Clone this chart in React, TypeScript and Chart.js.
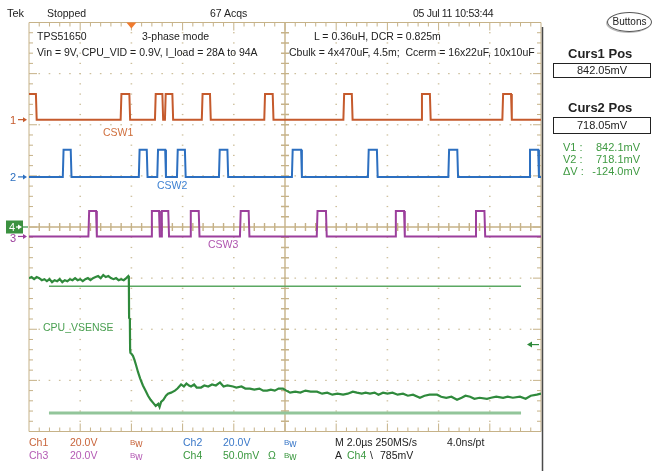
import React, { useEffect, useRef } from "react";
import { Chart, registerables } from "chart.js";

Chart.register(...registerables);

// ---------- Scope set-up ----------
// Horizontal: 2.0 µs/div, 10 divisions, trigger at t = 0 (2 div from left)
const TIME_MIN_US = -4;
const TIME_MAX_US = 16;
// Vertical: 8 divisions
const DIV_MIN = -4;
const DIV_MAX = 4;

// Ch1..Ch3: 20 V/div, ground position in divisions
const CH1_V_PER_DIV = 20;
const CH1_POS_DIV = 2.1;
const CH2_V_PER_DIV = 20;
const CH2_POS_DIV = 0.98;
const CH3_V_PER_DIV = 20;
const CH3_POS_DIV = -0.185;
// Ch4: 50 mV/div, offset 900 mV at centre
const CH4_MV_PER_DIV = 50;
const CH4_OFFSET_MV = 900;

// ---------- Switching pulses (rise, fall) in µs ----------
const CSW1_HIGH_V = 10;
const CSW1_PULSES_US = [
  [-4.5, -3.73], [-0.42, -0.08], [0.92, 1.21], [1.31, 1.6], [2.75, 3.07],
  [5.19, 5.52], [8.28, 8.61], [11.32, 11.66], [14.49, 14.83],
];
const CSW2_HIGH_V = 10.6;
const CSW2_PULSES_US = [
  [-2.68, -2.37], [0.29, 0.6], [1.01, 1.32], [1.78, 2.09], [3.42, 3.75],
  [6.27, 6.63], [9.24, 9.59], [12.38, 12.73], [15.54, 15.89],
];
const CSW3_HIGH_V = 10;
const CSW3_PULSES_US = [
  [-1.68, -1.38], [0.77, 1.08], [1.16, 1.44], [2.29, 2.63], [4.24, 4.58],
  [7.24, 7.6], [10.3, 10.65], [13.43, 13.79],
];

// ---------- CPU_VSENSE (Ch4) ----------
const VSENSE_T_US = [
  -4.0, -3.9, -3.8, -3.7, -3.6, -3.5, -3.4, -3.3, -3.2, -3.1,
  -3.0, -2.9, -2.8, -2.7, -2.6, -2.5, -2.4, -2.3, -2.2, -2.1,
  -2.0, -1.9, -1.8, -1.7, -1.6, -1.5, -1.4, -1.3, -1.2, -1.1,
  -1.0, -0.9, -0.8, -0.7, -0.6, -0.5, -0.4, -0.3, -0.2, -0.12,
  -0.1, -0.09, -0.06, -0.05, -0.04, 0.0, 0.06, 0.12, 0.18, 0.26,
  0.34, 0.45, 0.55, 0.65, 0.75, 0.85, 0.95, 1.05, 1.1, 1.16,
  1.25, 1.35, 1.43, 1.55, 1.7, 1.8, 1.94, 2.05, 2.15, 2.25,
  2.33, 2.45, 2.55, 2.72, 2.85, 3.0, 3.15, 3.3, 3.46, 3.6,
  3.75, 3.97, 4.1, 4.3, 4.45, 4.63, 4.8, 5.0, 5.15, 5.3,
  5.45, 5.6, 5.75, 5.92, 6.05, 6.2, 6.4, 6.6, 6.8, 7.0,
  7.25, 7.45, 7.65, 7.85, 8.05, 8.27, 8.45, 8.65, 8.81, 9.0,
  9.15, 9.32, 9.5, 9.65, 9.83, 10.0, 10.2, 10.4, 10.61, 10.8,
  11.0, 11.27, 11.45, 11.65, 11.94, 12.1, 12.3, 12.5, 12.72, 12.9,
  13.05, 13.23, 13.4, 13.6, 13.89, 14.05, 14.25, 14.52, 14.7, 14.9,
  15.18, 15.4, 15.6, 15.84, 16.0,
];
const VSENSE_MV = [
  850, 851, 849, 851, 850, 848, 849, 847, 849, 846,
  848, 847, 849, 846, 848, 847, 849, 848, 850, 848,
  849, 847, 849, 850, 848, 850, 851, 852, 850, 853,
  851, 852, 850, 849, 850, 848, 849, 848, 850, 852,
  851, 811, 810, 780, 777, 776, 774, 770, 765, 758,
  752, 745, 740, 735, 731, 728, 725, 727, 724, 729,
  731, 735, 737, 738, 740, 742, 746, 744, 747, 745,
  744, 746, 743, 743, 745, 744, 746, 745, 748, 744,
  745, 744, 743, 744, 742, 742, 741, 742, 740, 740,
  741, 740, 742, 742, 740, 738, 739, 738, 740, 739,
  739, 737, 738, 736, 737, 736, 737, 739, 738, 737,
  738, 737, 738, 736, 738, 737, 738, 736, 737, 735,
  736, 733, 735, 736, 736, 734, 733, 734, 731, 733,
  735, 734, 732, 733, 732, 733, 734, 733, 734, 733,
  734, 732, 735, 736, 737,
];

// ---------- Cursors & trigger ----------
const CURSOR1_MV = 842.05;
const CURSOR2_MV = 718.05;
const CURSOR_SPAN_US = [-3.22, 15.22];
const TRIGGER_LEVEL_MV = 785;
const TRIGGER_TIME_US = 0;

// ---------- Colours ----------
const C1 = "#c55a2c";
const C2 = "#2c6fc0";
const C3 = "#9c3f9c";
const C4 = "#2f8a3c";
const GRAT = "#c6b288";
const DOT = "#cdbf9c";

function pulseTrain(pulses: number[][], posDiv: number, highV: number, vPerDiv: number) {
  const lo = posDiv;
  const hi = posDiv + highV / vPerDiv;
  const pts: { x: number; y: number }[] = [];
  pts.push({ x: TIME_MIN_US - 1, y: pulses[0][0] < TIME_MIN_US ? hi : lo });
  for (const [r, f] of pulses) {
    if (r > TIME_MIN_US) {
      pts.push({ x: r, y: lo });
      pts.push({ x: r + 0.03, y: hi });
    }
    pts.push({ x: f, y: hi });
    pts.push({ x: f + 0.03, y: lo });
  }
  pts.push({ x: TIME_MAX_US + 1, y: lo });
  return pts;
}

const mvToDiv = (mv: number) => (mv - CH4_OFFSET_MV) / CH4_MV_PER_DIV;

const graticulePlugin = {
  id: "graticule",
  beforeDatasetsDraw(chart: any) {
    const { ctx, chartArea: a, scales } = chart;
    const xs = scales.x;
    const ys = scales.y;
    const tDiv = (TIME_MAX_US - TIME_MIN_US) / 10;
    ctx.save();
    // dotted division lines
    ctx.fillStyle = DOT;
    for (let k = 1; k < 10; k++) {
      if (k === 5) continue;
      const x = xs.getPixelForValue(TIME_MIN_US + k * tDiv);
      for (let m = 1; m < 40; m++) {
        const y = ys.getPixelForValue(DIV_MIN + m / 5);
        ctx.fillRect(x - 0.8, y - 0.6, 1.6, 1.2);
      }
    }
    for (let k = 1; k < 8; k++) {
      if (k === 4) continue;
      const y = ys.getPixelForValue(DIV_MIN + k);
      for (let m = 1; m < 50; m++) {
        const x = xs.getPixelForValue(TIME_MIN_US + (m * tDiv) / 5);
        ctx.fillRect(x - 0.8, y - 0.6, 1.6, 1.2);
      }
    }
    // centre cross with ticks
    ctx.strokeStyle = GRAT;
    ctx.lineWidth = 1.4;
    const cx = xs.getPixelForValue(TIME_MIN_US + 5 * tDiv);
    const cy = ys.getPixelForValue(0);
    ctx.beginPath();
    ctx.moveTo(a.left, cy);
    ctx.lineTo(a.right, cy);
    ctx.moveTo(cx, a.top);
    ctx.lineTo(cx, a.bottom);
    for (let m = 1; m < 50; m++) {
      const x = xs.getPixelForValue(TIME_MIN_US + (m * tDiv) / 5);
      ctx.moveTo(x, cy - 4);
      ctx.lineTo(x, cy + 4);
    }
    for (let m = 1; m < 40; m++) {
      const y = ys.getPixelForValue(DIV_MIN + m / 5);
      ctx.moveTo(cx - 4, y);
      ctx.lineTo(cx + 4, y);
    }
    ctx.stroke();
    // border with ticks
    ctx.lineWidth = 1;
    ctx.beginPath();
    ctx.rect(a.left, a.top, a.right - a.left, a.bottom - a.top);
    for (let m = 1; m < 50; m++) {
      const x = xs.getPixelForValue(TIME_MIN_US + (m * tDiv) / 5);
      const len = m % 5 === 0 ? 8 : 4;
      ctx.moveTo(x, a.top);
      ctx.lineTo(x, a.top + len);
      ctx.moveTo(x, a.bottom);
      ctx.lineTo(x, a.bottom - len);
    }
    for (let m = 1; m < 40; m++) {
      const y = ys.getPixelForValue(DIV_MIN + m / 5);
      const len = m % 5 === 0 ? 8 : 4;
      ctx.moveTo(a.left, y);
      ctx.lineTo(a.left + len, y);
      ctx.moveTo(a.right, y);
      ctx.lineTo(a.right - len, y);
    }
    ctx.stroke();
    ctx.restore();
  },
  afterDraw(chart: any) {
    const { ctx, chartArea: a, scales } = chart;
    const xs = scales.x;
    const ys = scales.y;
    ctx.save();
    ctx.font = '11px "Liberation Sans", Arial, sans-serif';
    ctx.textBaseline = "middle";
    const arrow = (x0: number, x1: number, y: number, color: string) => {
      ctx.strokeStyle = color;
      ctx.fillStyle = color;
      ctx.lineWidth = 1.2;
      ctx.beginPath();
      ctx.moveTo(x0, y);
      ctx.lineTo(x1 - 3, y);
      ctx.stroke();
      ctx.beginPath();
      ctx.moveTo(x1, y);
      ctx.lineTo(x1 - 4, y - 2.5);
      ctx.lineTo(x1 - 4, y + 2.5);
      ctx.closePath();
      ctx.fill();
    };
    const marker = (label: string, posDiv: number, color: string) => {
      const y = ys.getPixelForValue(posDiv);
      ctx.fillStyle = color;
      ctx.fillText(label, 10, y + 1);
      arrow(18, 27, y, color);
    };
    marker("1", CH1_POS_DIV, C1);
    marker("2", CH2_POS_DIV, C2);
    {
      const y = ys.getPixelForValue(CH3_POS_DIV);
      ctx.fillStyle = C3;
      ctx.fillText("3", 10, y + 2.5);
      arrow(18, 27, y, C3);
    }
    {
      const y = ys.getPixelForValue(mvToDiv(CH4_OFFSET_MV));
      ctx.fillStyle = "#3b9140";
      ctx.fillRect(6, y - 6.5, 17, 13);
      ctx.fillStyle = "#ffffff";
      ctx.fillText("4", 9, y + 1);
      arrow(16, 22, y, "#ffffff");
      ctx.strokeStyle = "#3b9140";
      ctx.beginPath();
      ctx.moveTo(23, y);
      ctx.lineTo(28, y);
      ctx.stroke();
    }
    // trigger position marker
    {
      const x = xs.getPixelForValue(TRIGGER_TIME_US);
      ctx.fillStyle = "#f07a2e";
      ctx.beginPath();
      ctx.moveTo(x - 5, a.top);
      ctx.lineTo(x + 5, a.top);
      ctx.lineTo(x, a.top + 6);
      ctx.closePath();
      ctx.fill();
    }
    // trigger level marker
    {
      const y = ys.getPixelForValue(mvToDiv(TRIGGER_LEVEL_MV));
      ctx.strokeStyle = C4;
      ctx.fillStyle = C4;
      ctx.lineWidth = 1.2;
      ctx.beginPath();
      ctx.moveTo(a.right - 2, y);
      ctx.lineTo(a.right - 11, y);
      ctx.stroke();
      ctx.beginPath();
      ctx.moveTo(a.right - 14, y);
      ctx.lineTo(a.right - 9, y - 3);
      ctx.lineTo(a.right - 9, y + 3);
      ctx.closePath();
      ctx.fill();
    }
    // panel separator
    ctx.strokeStyle = "#4a4a4a";
    ctx.lineWidth = 1.5;
    ctx.beginPath();
    ctx.moveTo(a.right + 1.5, 27);
    ctx.lineTo(a.right + 1.5, 471);
    ctx.stroke();
    ctx.restore();
  },
};

const FONT = '"Liberation Sans", Arial, sans-serif';

function T(props: { x: number; y: number; c?: string; s?: number; b?: boolean; ls?: number; children: any }) {
  return (
    <div
      style={{
        position: "absolute",
        left: props.x,
        top: props.y,
        transform: "translateY(-50%)",
        color: props.c || "#222",
        fontSize: props.s || 10.5,
        fontWeight: props.b ? 700 : 400,
        letterSpacing: props.ls || 0,
        whiteSpace: "nowrap",
        lineHeight: 1,
        fontFamily: FONT,
      }}
    >
      {props.children}
    </div>
  );
}

function Bw(props: { x: number; y: number; c: string }) {
  return (
    <div style={{ position: "absolute", left: props.x, top: props.y, transform: "translateY(-50%)", color: props.c, fontFamily: FONT, lineHeight: 1, whiteSpace: "nowrap" }}>
      <span style={{ fontSize: 8, position: "relative", top: -2 }}>B</span>
      <span style={{ fontSize: 10 }}>w</span>
    </div>
  );
}

export default function App() {
  const ref = useRef<HTMLCanvasElement>(null);
  useEffect(() => {
    if (!ref.current) return;
    const chart = new Chart(ref.current, {
      type: "line",
      data: {
        datasets: [
          {
            data: VSENSE_T_US.map((t, i) => ({ x: t, y: mvToDiv(VSENSE_MV[i]) })),
            borderColor: C4,
            borderWidth: 2.2,
          },
          {
            data: CURSOR_SPAN_US.map((t) => ({ x: t, y: mvToDiv(CURSOR1_MV) })),
            borderColor: "#5aa862",
            borderWidth: 1.3,
          },
          {
            data: CURSOR_SPAN_US.map((t) => ({ x: t, y: mvToDiv(CURSOR2_MV) })),
            borderColor: "#92c59a",
            borderWidth: 3,
          },
          { data: pulseTrain(CSW1_PULSES_US, CH1_POS_DIV, CSW1_HIGH_V, CH1_V_PER_DIV), borderColor: C1, borderWidth: 2 },
          { data: pulseTrain(CSW2_PULSES_US, CH2_POS_DIV, CSW2_HIGH_V, CH2_V_PER_DIV), borderColor: C2, borderWidth: 2 },
          { data: pulseTrain(CSW3_PULSES_US, CH3_POS_DIV, CSW3_HIGH_V, CH3_V_PER_DIV), borderColor: C3, borderWidth: 2 },
        ] as any,
      },
      options: {
        animation: false,
        responsive: false,
        events: [],
        layout: { padding: { left: 29, top: 22.5, right: 112, bottom: 39.5 } },
        elements: { point: { radius: 0 }, line: { tension: 0 } },
        plugins: { legend: { display: false }, tooltip: { enabled: false } },
        scales: {
          x: { type: "linear", min: TIME_MIN_US, max: TIME_MAX_US, display: false },
          y: { type: "linear", min: DIV_MIN, max: DIV_MAX, display: false },
        },
      },
      plugins: [graticulePlugin],
    });
    return () => chart.destroy();
  }, []);

  return (
    <div style={{ position: "fixed", left: 0, top: 0, width: 653, height: 471, background: "#fff", overflow: "hidden", fontFamily: FONT }}>
      <canvas ref={ref} width={653} height={471} style={{ position: "absolute", left: 0, top: 0, width: 653, height: 471 }} />
      {/* header */}
      <T x={7} y={13} s={11}>Tek</T>
      <T x={47} y={13}>Stopped</T>
      <T x={210} y={13}>67 Acqs</T>
      <T x={413} y={13} ls={-0.3}>05 Jul 11 10:53:44</T>
      {/* annotations */}
      <T x={37} y={36}>TPS51650</T>
      <T x={142} y={36}>3-phase mode</T>
      <T x={314} y={36}>L = 0.36uH, DCR = 0.825m</T>
      <T x={37} y={52}>Vin = 9V, CPU_VID = 0.9V, I_load = 28A to 94A</T>
      <div style={{ position: "absolute", left: 289, top: 44, width: 252, height: 16, overflow: "hidden" }}>
        <T x={0} y={8}>Cbulk = 4x470uF, 4.5m;&nbsp;&nbsp;Ccerm = 16x22uF, 10x10uF</T>
      </div>
      <T x={103} y={132} c="#d0703f">CSW1</T>
      <T x={157} y={185} c="#3f82d2">CSW2</T>
      <T x={208} y={244} c="#b055b0">CSW3</T>
      <T x={43} y={327} c="#4aa052">CPU_VSENSE</T>
      {/* right panel */}
      <div style={{ position: "absolute", left: 607, top: 12, width: 43, height: 18, border: "1px solid #555", borderRadius: "50%", boxShadow: "-1px 1px 0 #bbb", fontSize: 10, lineHeight: "18px", textAlign: "center", color: "#222" }}>Buttons</div>
      <T x={568} y={53} s={13} b>Curs1 Pos</T>
      <div style={{ position: "absolute", left: 553, top: 63, width: 96, height: 13, border: "1px solid #222", fontSize: 11, lineHeight: "13px", textAlign: "center", color: "#222" }}>842.05mV</div>
      <T x={568} y={107} s={13} b>Curs2 Pos</T>
      <div style={{ position: "absolute", left: 553, top: 117, width: 96, height: 15, border: "1px solid #222", fontSize: 11, lineHeight: "15px", textAlign: "center", color: "#222" }}>718.05mV</div>
      <T x={563} y={147} c="#3f9a42" s={11}>V1 :</T>
      <T x={563} y={159} c="#3f9a42" s={11}>V2 :</T>
      <T x={563} y={171} c="#3f9a42" s={11}>ΔV :</T>
      <div style={{ position: "absolute", left: 580, top: 141, width: 60, textAlign: "right", color: "#3f9a42", fontSize: 11, lineHeight: "12px", fontFamily: FONT }}>
        842.1mV<br />718.1mV<br />-124.0mV
      </div>
      {/* footer */}
      <T x={29} y={442} c="#c8643a">Ch1</T>
      <T x={70} y={442} c="#c8643a">20.0V</T>
      <Bw x={130} y={442} c="#c8643a" />
      <T x={183} y={442} c="#3a78c8">Ch2</T>
      <T x={223} y={442} c="#3a78c8">20.0V</T>
      <Bw x={284} y={442} c="#3a78c8" />
      <T x={29} y={455} c="#b45ab4">Ch3</T>
      <T x={70} y={455} c="#b45ab4">20.0V</T>
      <Bw x={130} y={455} c="#b45ab4" />
      <T x={183} y={455} c="#3a983f">Ch4</T>
      <T x={223} y={455} c="#3a983f">50.0mV</T>
      <T x={268} y={455} c="#3a983f">Ω</T>
      <Bw x={284} y={455} c="#3a983f" />
      <T x={335} y={442}>M 2.0µs 250MS/s</T>
      <T x={447} y={442}>4.0ns/pt</T>
      <T x={335} y={455}>A</T>
      <T x={347} y={455} c="#3a983f">Ch4</T>
      <T x={370} y={455}>\</T>
      <T x={380} y={455}>785mV</T>
    </div>
  );
}
